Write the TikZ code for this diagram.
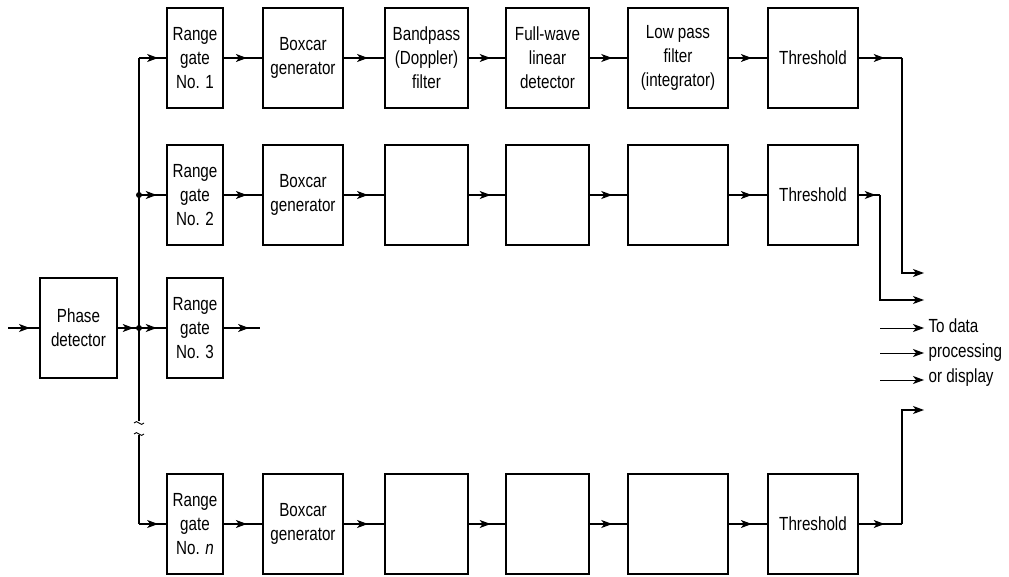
\documentclass[tikz,border=0pt]{standalone}
\usepackage{fontspec}
\setmainfont{Liberation Sans}[FakeStretch=0.8]
\usetikzlibrary{arrows.meta,decorations.markings}
\begin{document}
\begin{tikzpicture}[x=1pt,y=-1pt,line width=1.1pt,
  box/.style={draw,line width=1.3pt,minimum height=100pt,inner sep=0pt,align=center,
    font=\fontsize{19}{24}\selectfont},
  mid/.style={postaction={decorate},decoration={markings,
    mark=at position #1 with {\arrow{Stealth[length=11pt,width=8pt,inset=3pt]}}}},
  mid/.default=0.6,
  tip/.style={-{Stealth[length=11pt,width=8pt,inset=3pt]}},
  junct/.style={circle,fill,inner sep=0pt,minimum size=6pt}]
\useasboundingbox (0,0) rectangle (1009,577);

% phase detector
\node[box,minimum width=77pt] (pd) at (78.5,328) {Phase\\detector};
\coordinate (in) at (8,328);
\draw[mid=0.7] (in) -- (pd.west);

% row 1
\node[box,minimum width=56pt] (rg1) at (195,58) {Range\\gate\\No. 1};
\node[box,minimum width=80pt] (bc1) at (303,58) {Boxcar\\generator};
\node[box,minimum width=83pt] (bp1) at (426.5,58) {Bandpass\\(Doppler)\\filter};
\node[box,minimum width=83pt] (fw1) at (547.5,58) {Full-wave\\linear\\detector};
\node[box,minimum width=100pt] (lp1) at (678,58) {Low pass\\filter\\(integrator)};
\node[box,minimum width=90pt] (th1) at (813,58) {Threshold};

% row 2
\node[box,minimum width=56pt] (rg2) at (195,195) {Range\\gate\\No. 2};
\node[box,minimum width=80pt] (bc2) at (303,195) {Boxcar\\generator};
\node[box,minimum width=83pt] (bp2) at (426.5,195) {};
\node[box,minimum width=83pt] (fw2) at (547.5,195) {};
\node[box,minimum width=100pt] (lp2) at (678,195) {};
\node[box,minimum width=90pt] (th2) at (813,195) {Threshold};

% row 3
\node[box,minimum width=56pt] (rg3) at (195,328) {Range\\gate\\No. 3};

% row n
\node[box,minimum width=56pt] (rgn) at (195,524) {Range\\gate\\No. \textit{n}};
\node[box,minimum width=80pt] (bcn) at (303,524) {Boxcar\\generator};
\node[box,minimum width=83pt] (bpn) at (426.5,524) {};
\node[box,minimum width=83pt] (fwn) at (547.5,524) {};
\node[box,minimum width=100pt] (lpn) at (678,524) {};
\node[box,minimum width=90pt] (thn) at (813,524) {Threshold};

% chain connectors
\foreach \r in {1,2,n}{
  \draw[mid] (rg\r) -- (bc\r);
  \draw[mid] (bc\r) -- (bp\r);
  \draw[mid] (bp\r) -- (fw\r);
  \draw[mid] (fw\r) -- (lp\r);
  \draw[mid] (lp\r) -- (th\r);
}

% bus
\coordinate (b1) at (139,58);
\coordinate (b2) at (139,195);
\coordinate (b3) at (139,328);
\coordinate (bn) at (139,524);
\coordinate (brk1) at (139,421);
\coordinate (brk2) at (139,435);
\draw (b1) -- (brk1);
\draw (brk2) -- (bn);
\draw[line width=0.9pt] (134,423) .. controls (137,418) and (141,428) .. (144,423);
\draw[line width=0.9pt] (134,434) .. controls (137,429) and (141,439) .. (144,434);
\node[junct] (j2) at (b2) {};
\node[junct] (j3) at (b3) {};
\draw[mid=0.7] (b1) -- (rg1.west);
\draw[mid=0.65] (b2) -- (rg2.west);
\draw[mid=0.65] (b3) -- (rg3.west);
\draw[mid=0.7] (bn) -- (rgn.west);
\draw[mid=0.75] (pd.east) -- (b3);

% row 3 output
\coordinate (o3) at (260,328);
\draw[mid=0.7] (rg3.east) -- (o3);

% outputs
\coordinate (c1) at (902,58);
\coordinate (e1) at (924,273);
\draw[mid=0.6] (th1.east) -- (c1);
\draw[tip] (c1) -- (c1 |- e1) -- (e1);

\coordinate (c2) at (880,195);
\coordinate (e2) at (924,300);
\draw[mid=0.8] (th2.east) -- (c2);
\draw[tip] (c2) -- (c2 |- e2) -- (e2);

\coordinate (cn) at (902,524);
\coordinate (en) at (924,410);
\draw[mid=0.6] (thn.east) -- (cn);
\draw[tip] (cn) -- (cn |- en) -- (en);

\coordinate (m1s) at (880,328); \coordinate (m1e) at (924,328);
\coordinate (m2s) at (880,353); \coordinate (m2e) at (924,353);
\coordinate (m3s) at (880,380); \coordinate (m3e) at (924,380);
\draw[tip,line width=0.9pt] (m1s) -- (m1e);
\draw[tip,line width=0.9pt] (m2s) -- (m2e);
\draw[tip,line width=0.9pt] (m3s) -- (m3e);

\node[anchor=west,align=left,inner sep=0pt,font=\fontsize{19}{25}\selectfont] (lbl) at (928,353) {To data\\processing\\or display};
\end{tikzpicture}
\end{document}
